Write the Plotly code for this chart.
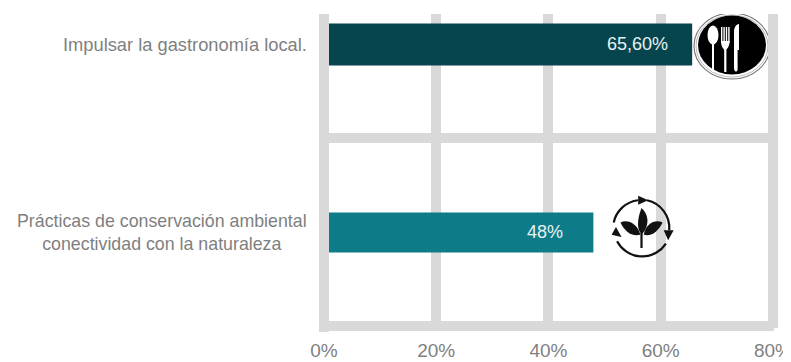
import base64
import plotly.graph_objects as go

categories = ["Prácticas de conservación ambiental<br>conectividad con la naturaleza",
              "Impulsar la gastronomía local."]
values = [48, 65.6]
value_labels = ["48%", "65,60%"]
bar_colors = ["#0e7c88", "#07454e"]
bar_widths = [0.213, 0.223]
label_shift = [-28, -22]
label_sizes = [17.8, 18.3]
x_ticks = [0, 20, 40, 60, 80]
x_labels = ["0%", "20%", "40%", "60%", "80%"]

GRID = "#d9d9d9"
TEXT = "#7f7f7f"
FONT = "Liberation Sans, Arial, sans-serif"
PAGE = 8                      # the page's own margin round the figure
L, T, PW, PH = 324 - PAGE, 14 - PAGE, 450, 314
W, H = 791 - PAGE, 362 - PAGE


def uri(svg):
    return "data:image/svg+xml;base64," + base64.b64encode(svg.encode()).decode()


cutlery = """<svg xmlns="http://www.w3.org/2000/svg" viewBox="0 0 78 66">
<ellipse cx="39" cy="32" rx="38" ry="33" fill="white" stroke="#777" stroke-width="1.1"/>
<ellipse cx="39" cy="32" rx="36" ry="31" fill="none" stroke="#aaa" stroke-width="0.8"/>
<ellipse cx="39" cy="31" rx="34" ry="29.5" fill="#000"/>
<g fill="white">
<ellipse cx="20" cy="21" rx="5.5" ry="9.5"/><rect x="19" y="28" width="2" height="30"/>
<rect x="28" y="13" width="1.4" height="16"/><rect x="30.4" y="13" width="1.4" height="16"/>
<rect x="32.8" y="13" width="1.4" height="16"/><rect x="35.2" y="13" width="1.4" height="16"/>
<path d="M28 27 H36.6 C36.6 33 33.6 35 33.4 36 L33.4 58 H31.2 L31.2 36 C31 35 28 33 28 27Z"/>
<path d="M41 54 V18 C41 14 43 10 46 10 V36 H44.6 V56 C43 59 41 57 41 54Z"/>
</g></svg>"""

plant = """<svg xmlns="http://www.w3.org/2000/svg" viewBox="0 0 64 64">
<g fill="none" stroke="#111" stroke-width="2">
<path d="M7 27 A25.5 25.5 0 0 1 29 7"/>
<path d="M37 7 A25.5 25.5 0 0 1 57 34"/>
<path d="M54 46 A25.5 25.5 0 0 1 10 44"/>
</g>
<g fill="#111">
<path d="M29 3 L38 7 L29 11Z"/>
<path d="M52 34 L61 34 L56 43Z"/>
<path d="M5 38 L14 40 L9 31Z"/>
<path d="M32 14 C39 20 39 30 33 37 C30 38 26 29 32 14Z"/>
<path d="M13 27 C20 24 28 28 31 38 C23 40 17 35 13 27Z"/>
<path d="M51 27 C44 24 36 28 34 38 C41 40 47 35 51 27Z"/>
<rect x="31" y="36" width="2" height="14"/>
</g></svg>"""

fig = go.Figure(go.Bar(
    y=categories, x=values, orientation="h", width=bar_widths,
    marker=dict(color=bar_colors, line=dict(width=0)), hoverinfo="skip",
))

for cat, v, lab, dx, fs in zip(categories, values, value_labels, label_shift, label_sizes):
    fig.add_annotation(x=v, y=cat, xref="x", yref="y", text=lab, showarrow=False,
                       xanchor="right", xshift=dx,
                       font=dict(family=FONT, size=18, color="#e8f1f2"))
    fig.add_annotation(x=0, y=cat, xref="paper", yref="y", text=cat, showarrow=False,
                       xanchor="right", xshift=-15, align="center",
                       font=dict(family=FONT, size=fs, color=TEXT))

fig.add_shape(type="line", xref="paper", yref="paper", x0=0, x1=0, y0=-4 / PH, y1=1, layer="above",
              line=dict(color=GRID, width=10))

fig.add_layout_image(source=uri(cutlery), xref="paper", yref="paper", xanchor="left", yanchor="top",
                     x=(693 - 324) / PW, y=1, sizex=78 / PW, sizey=66 / PH,
                     sizing="stretch", layer="below")
fig.add_layout_image(source=uri(plant), xref="paper", yref="paper", xanchor="left", yanchor="top",
                     x=(606 - 324) / PW, y=1 - (192.5 - 14) / PH, sizex=71 / PW, sizey=71 / PH,
                     sizing="stretch", layer="above")

fig.update_layout(
    width=W, height=H, autosize=False,
    margin=dict(l=L, r=W - L - PW, t=T, b=H - T - PH, autoexpand=False),
    paper_bgcolor="white", plot_bgcolor="rgba(0,0,0,0)", showlegend=False,
    xaxis=dict(range=[0, 80.18], tickvals=x_ticks, ticktext=x_labels, showgrid=True,
               gridcolor=GRID, gridwidth=10, zeroline=False, showline=False, ticks="",
               automargin=False, ticklabeloverflow="allow",
               tickfont=dict(family=FONT, size=19, color=TEXT), ticklabelstandoff=9),
    yaxis=dict(type="category", categoryorder="array", categoryarray=categories,
               range=[-0.5085, 1.162], tickson="boundaries", showgrid=True, automargin=False,
               gridcolor=GRID, gridwidth=10, zeroline=False, showline=False,
               ticks="", showticklabels=False),
)
fig.write_html("out.html")
